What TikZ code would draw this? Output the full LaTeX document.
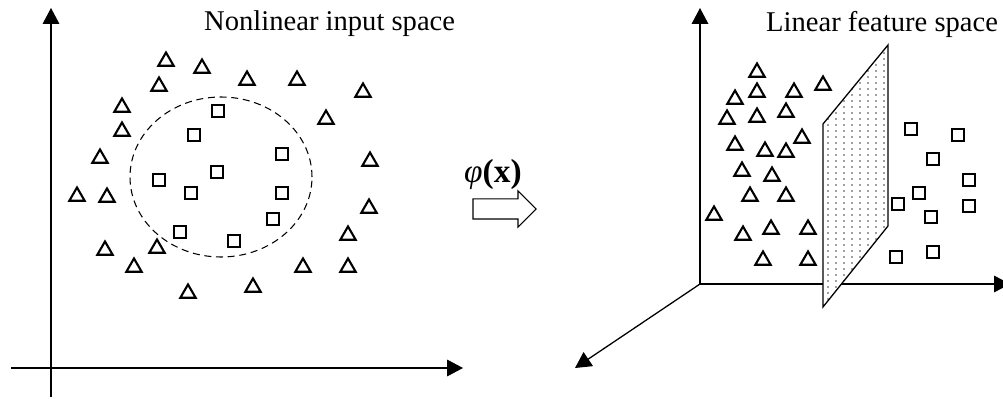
\documentclass[tikz,border=0pt]{standalone}
\usepackage{fontspec}
\setmainfont{Liberation Serif}
\usetikzlibrary{arrows.meta, positioning, shapes.geometric, shapes.arrows}

\begin{document}
\begin{tikzpicture}[x=0.03cm, y=-0.03cm,
    tri/.style={regular polygon, regular polygon sides=3, draw, line width=1.8pt,
                minimum size=0.53cm, inner sep=0pt, yshift=-0.07cm},
    sq/.style={rectangle, draw, line width=1.8pt, minimum size=0.35cm, inner sep=0pt},
    axis/.style={line width=1.1pt, -{Triangle[length=0.48cm, width=0.5cm]}},
    lbl/.style={font=\fontsize{24.4}{29}\selectfont, inner sep=0pt, anchor=base west},
]
\useasboundingbox (0,0) rectangle (1003,399);

% left: input space
\coordinate (o1)  at (51,368);
\coordinate (y1)  at (51,8);
\coordinate (y1b) at (51,397);
\coordinate (x1)  at (463,368);
\coordinate (x1b) at (11,368);
\draw[axis] (y1b) -- (y1);
\draw[axis] (x1b) -- (x1);
\node[lbl] (ttl1) at (204,31) {Nonlinear input space};

\node[ellipse, draw, dashed, dash pattern=on 6pt off 4pt, line width=0.9pt,
      minimum width=5.46cm, minimum height=4.8cm, inner sep=0pt] (circ) at (221,177) {};

\foreach \p [count=\i] in {(166,59),(202,66),(247,78),(297,78),(363,90),(159,84),
    (122,105),(326,117),(122,129),(100,156),(370,159),(77,194),(107,195),(369,206),
    (348,233),(105,248),(157,246),(134,265),(303,265),(348,265),(253,285),(188,291)}
  \node[tri] (ta\i) at \p {};
\foreach \p [count=\i] in {(218,111),(194,135),(282,154),(217,172),(159,180),
    (191,193),(282,193),(273,219),(180,232),(234,241)}
  \node[sq] (sa\i) at \p {};

% mapping
\node[single arrow, draw, line width=0.9pt, minimum height=1.89cm,
      single arrow head extend=0.24cm, single arrow head indent=0pt,
      inner xsep=0pt, inner ysep=0.285cm] (map) at (499.5,209) {};
\node[lbl, font=\fontsize{28.5}{32}\selectfont] (phi) at (464,183) {\textit{φ}\textbf{(x)}};

% right: feature space
\coordinate (o2) at (700,284);
\coordinate (y2) at (700,8);
\coordinate (x2) at (1010,284);
\coordinate (z2) at (575,368);
\draw[axis] (o2) -- (y2);
\draw[axis] (o2) -- (x2);
\draw[axis] (o2) -- (z2);
\node[lbl] (ttl2) at (766,32) {Linear feature space};

\coordinate (p1) at (823,124);
\coordinate (p2) at (888,45);
\coordinate (p3) at (888,226);
\coordinate (p4) at (823,307);
\fill[white] (p1) -- (p2) -- (p3) -- (p4) -- cycle;
\begin{scope}
  \clip (p1) -- (p2) -- (p3) -- (p4) -- cycle;
  \foreach \x in {828,836,...,887}
    \foreach \y in {47,53,...,307}
      \fill[black!75] (\x,\y) circle (0.7pt);
\end{scope}
\draw[line width=1.1pt] (p1) -- (p2) -- (p3) -- (p4) -- cycle;

\foreach \p [count=\i] in {(757,70),(757,90),(794,90),(823,83),(735,97),(727,117),
    (757,115),(786,110),(735,143),(802,136),(765,149),(786,150),(742,169),(772,174),
    (750,194),(786,194),(714,213),(743,233),(771,227),(808,227),(763,258),(808,258)}
  \node[tri] (tb\i) at \p {};
\foreach \p [count=\i] in {(911,129),(958,135),(933,159),(969,180),(919,193),
    (898,204),(969,206),(931,217),(896,257),(933,252)}
  \node[sq] (sb\i) at \p {};
\end{tikzpicture}
\end{document}
